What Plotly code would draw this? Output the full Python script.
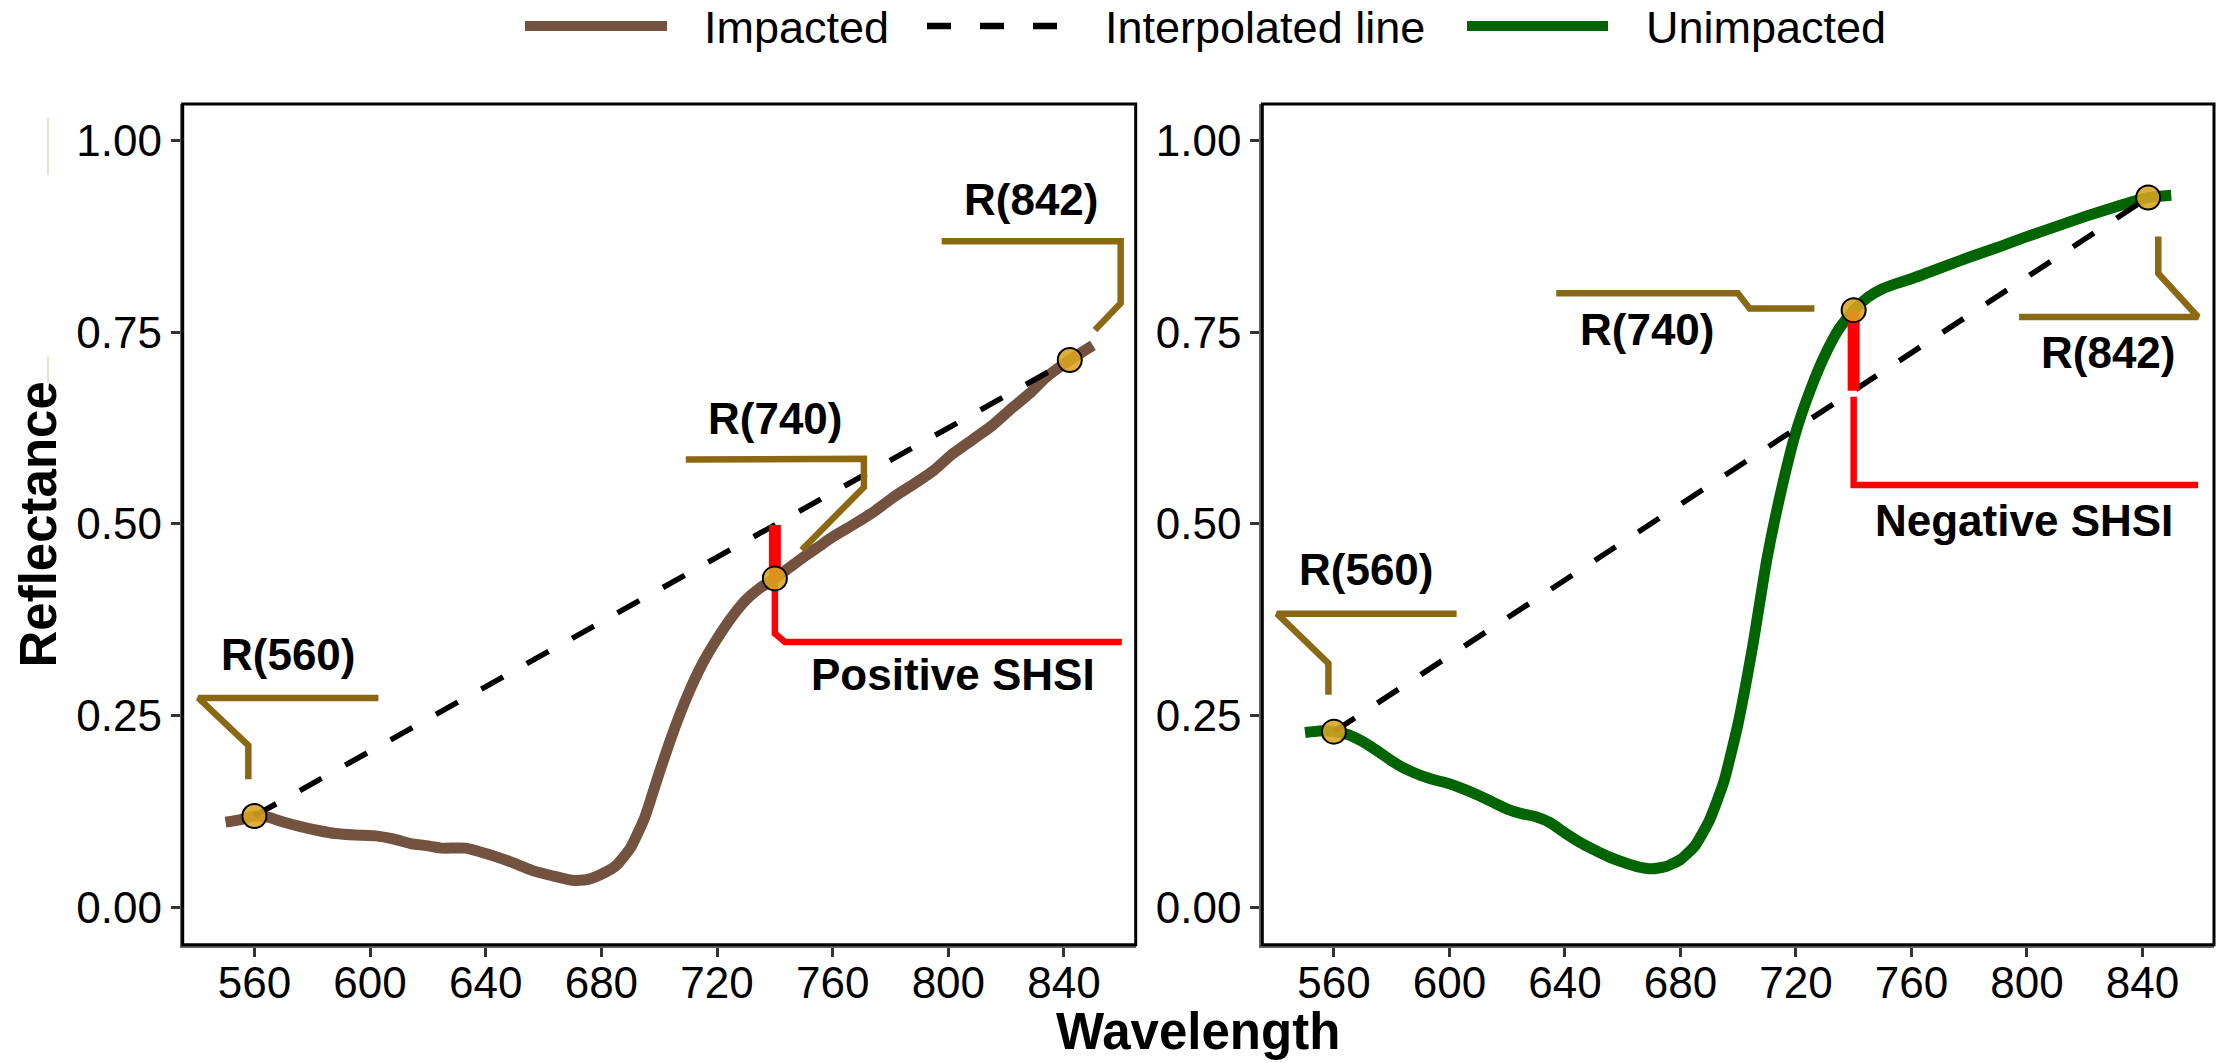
import numpy as np
import plotly.graph_objects as go

# ---------------- data ----------------
wavelength_impacted = [550, 555, 560, 565, 570, 576, 582, 588, 595, 602, 608, 614, 620, 625,
                       633, 640, 645, 650, 656, 663, 670, 675, 680, 685, 690, 695, 700, 705,
                       710, 715, 720, 725, 730, 735, 740, 745, 750, 755, 760, 768, 775, 781,
                       788, 795, 801, 808, 815, 821, 828, 834, 842, 850]
reflectance_impacted = [0.111, 0.114, 0.119, 0.117, 0.111, 0.105, 0.100, 0.096, 0.094, 0.093,
                        0.089, 0.083, 0.080, 0.077, 0.077, 0.070, 0.064, 0.057, 0.048, 0.041,
                        0.035, 0.036, 0.043, 0.054, 0.077, 0.117, 0.175, 0.230, 0.278, 0.318,
                        0.350, 0.378, 0.401, 0.417, 0.429, 0.443, 0.457, 0.470, 0.483, 0.501,
                        0.518, 0.535, 0.552, 0.570, 0.590, 0.609, 0.628, 0.648, 0.670, 0.692,
                        0.714, 0.733]

wavelength_unimpacted = [550, 555, 560, 565, 570, 575, 580, 585, 590, 595, 600, 605, 610, 615,
                         620, 625, 630, 635, 640, 645, 650, 655, 660, 665, 670, 675, 680, 685,
                         690, 695, 700, 705, 710, 715, 720, 725, 730, 735, 740, 745, 750, 755,
                         760, 770, 780, 790, 800, 810, 820, 830, 842, 850]
reflectance_unimpacted = [0.228, 0.230, 0.229, 0.225, 0.216, 0.204, 0.191, 0.180, 0.172, 0.166,
                          0.161, 0.154, 0.146, 0.137, 0.128, 0.122, 0.118, 0.110, 0.097, 0.085,
                          0.075, 0.066, 0.059, 0.053, 0.050, 0.053, 0.062, 0.080, 0.113, 0.163,
                          0.240, 0.340, 0.455, 0.545, 0.620, 0.675, 0.720, 0.755, 0.779, 0.796,
                          0.807, 0.814, 0.820, 0.834, 0.848, 0.861, 0.875, 0.888, 0.901, 0.913,
                          0.926, 0.929]

band_wavelengths = [560, 740, 842]
band_labels = ["R(560)", "R(740)", "R(842)"]
x_ticks = [560, 600, 640, 680, 720, 760, 800, 840]
y_ticks = [0.00, 0.25, 0.50, 0.75, 1.00]
legend_labels = ["Impacted", "Interpolated line", "Unimpacted"]
shsi_labels = ["Positive SHSI", "Negative SHSI"]

# ---------------- styles ----------------
FONT = "Liberation Sans, Arial, sans-serif"
BROWN = "#735240"
GREEN = "#006400"
GOLD = "#8B6914"
RED = "#FF0000"
MARKER = "rgba(218,165,32,0.88)"
W, H = 2222, 1063

fig = go.Figure()

panels = [
    dict(xa="x", ya="y", wl=wavelength_impacted, rf=reflectance_impacted, color=BROWN),
    dict(xa="x2", ya="y2", wl=wavelength_unimpacted, rf=reflectance_unimpacted, color=GREEN),
]

# callout geometry (offsets relative to each band point), per panel
callouts = [
    {  # impacted panel
        560: dict(path=[(-2.1, 0.048), (-2.1, 0.092), (-19.4, 0.154), (42.9, 0.154)], text=(11.8, 0.211)),
        740: dict(path=[(9.3, 0.037), (30.8, 0.119), (30.8, 0.156), (-30.8, 0.155)], text=(0.3, 0.208)),
        842: dict(path=[(8.7, 0.039), (17.6, 0.074), (17.6, 0.155), (-44.3, 0.155)], text=(-13.2, 0.210)),
    },
    {  # unimpacted panel
        560: dict(path=[(-1.9, 0.048), (-1.9, 0.089), (-19.7, 0.154), (42.5, 0.154)], text=(11.4, 0.211)),
        740: dict(path=[(-13.6, 0.002), (-36.0, 0.002), (-40.1, 0.022), (-103.0, 0.022)], text=(-71.5, -0.025)),
        842: dict(path=[(3.5, -0.051), (3.5, -0.099), (17.3, -0.156), (-44.7, -0.156)], text=(-13.7, -0.202)),
    },
]
shsi_geom = [
    dict(path=[(0, 0.0), (0, -0.072), (3.5, -0.083), (120, -0.083)], text=(61.7, -0.126)),
    dict(path=[(0, -0.113), (0, -0.228), (119.3, -0.228)], text=(58.9, -0.274)),
]

annotations = []
for i, p in enumerate(panels):
    wl = np.array(p["wl"], dtype=float)
    rf = np.array(p["rf"], dtype=float)
    band_vals = np.interp(band_wavelengths, wl, rf)
    r560, r740, r842 = band_vals
    interp740 = r560 + (740 - 560) * (r842 - r560) / (842 - 560)

    # spectrum
    fig.add_trace(go.Scatter(x=wl, y=rf, mode="lines", xaxis=p["xa"], yaxis=p["ya"],
                             line=dict(color=p["color"], width=11, shape="spline", smoothing=0.5),
                             showlegend=False, hoverinfo="skip"))
    # interpolated line
    fig.add_trace(go.Scatter(x=[560, 842], y=[r560, r842], mode="lines", xaxis=p["xa"], yaxis=p["ya"],
                             line=dict(color="black", width=5.5, dash="25px,27px"),
                             showlegend=False, hoverinfo="skip"))
    # callouts
    for bw, bv, lab in zip(band_wavelengths, band_vals, band_labels):
        c = callouts[i][bw]
        xs = [bw + dx for dx, dy in c["path"]]
        ys = [bv + dy for dx, dy in c["path"]]
        fig.add_trace(go.Scatter(x=xs, y=ys, mode="lines", xaxis=p["xa"], yaxis=p["ya"],
                                 line=dict(color=GOLD, width=6.5), showlegend=False, hoverinfo="skip"))
        annotations.append(dict(x=bw + c["text"][0], y=bv + c["text"][1], xref=p["xa"], yref=p["ya"],
                                text="<b>%s</b>" % lab, showarrow=False, xanchor="center", yanchor="middle",
                                font=dict(family=FONT, size=44, color="black")))
    # SHSI thick segment
    fig.add_trace(go.Scatter(x=[740, 740], y=[r740, interp740], mode="lines", xaxis=p["xa"], yaxis=p["ya"],
                             line=dict(color=RED, width=12), showlegend=False, hoverinfo="skip"))
    g = shsi_geom[i]
    fig.add_trace(go.Scatter(x=[740 + dx for dx, dy in g["path"]], y=[r740 + dy for dx, dy in g["path"]],
                             mode="lines", xaxis=p["xa"], yaxis=p["ya"],
                             line=dict(color=RED, width=6.5), showlegend=False, hoverinfo="skip"))
    annotations.append(dict(x=740 + g["text"][0], y=r740 + g["text"][1], xref=p["xa"], yref=p["ya"],
                            text="<b>%s</b>" % shsi_labels[i], showarrow=False, xanchor="center",
                            yanchor="middle", font=dict(family=FONT, size=44, color="black")))
    # band markers
    fig.add_trace(go.Scatter(x=band_wavelengths, y=band_vals, mode="markers", xaxis=p["xa"], yaxis=p["ya"],
                             marker=dict(size=24, color=MARKER, line=dict(color="black", width=2)),
                             showlegend=False, hoverinfo="skip"))

# ---------------- axes ----------------
xdoms = [[182.7 / W, 1135.7 / W], [1262.3 / W, 2214 / W]]
ydom = [1 - 944.7 / H, 1 - 104 / H]
axis_common = dict(showgrid=False, zeroline=False, showline=True, linecolor="#666666", linewidth=3,
                   ticks="outside", ticklen=9, tickwidth=2.5, tickcolor="#333333",
                   tickfont=dict(family=FONT, size=44, color="black"))
fig.update_layout(
    xaxis=dict(domain=xdoms[0], range=[535.2, 864.8], anchor="y", tickvals=x_ticks,
               ticklabelstandoff=-12, **axis_common),
    yaxis=dict(domain=ydom, range=[-0.049, 1.048], anchor="x", tickvals=y_ticks, tickformat=".2f",
               **axis_common),
    xaxis2=dict(domain=xdoms[1], range=[535.2, 864.8], anchor="y2", tickvals=x_ticks,
                ticklabelstandoff=-12, **axis_common),
    yaxis2=dict(domain=ydom, range=[-0.049, 1.048], anchor="x2", tickvals=y_ticks, tickformat=".2f",
                **axis_common),
)

shapes = []
for xr, yr in [("x domain", "y domain"), ("x2 domain", "y2 domain")]:
    shapes.append(dict(type="rect", xref=xr, yref=yr, x0=0, x1=1, y0=0, y1=1,
                       line=dict(color="black", width=3), layer="above"))

# faint marks at the far left of the reference
for y0, y1 in [(117, 175), (356, 383)]:
    shapes.append(dict(type="line", xref="paper", yref="paper", x0=48 / W, x1=48 / W,
                       y0=1 - y0 / H, y1=1 - y1 / H, line=dict(color="#e6d6bf", width=1.5)))

# ---------------- legend (drawn) ----------------
ly = 1 - 26 / H
legend_keys = [
    dict(x0=525, x1=667, color=BROWN, width=10, dash="solid", tx=703),
    dict(x0=927, x1=1060, color="black", width=6.5, dash="24px,29px", tx=1104),
    dict(x0=1467, x1=1608, color=GREEN, width=10, dash="solid", tx=1645),
]
for key, lab in zip(legend_keys, legend_labels):
    shapes.append(dict(type="line", xref="paper", yref="paper", x0=key["x0"] / W, x1=key["x1"] / W,
                       y0=ly, y1=ly, line=dict(color=key["color"], width=key["width"], dash=key["dash"])))
    annotations.append(dict(x=key["tx"] / W, y=1 - 27 / H, xref="paper", yref="paper", text=lab,
                            showarrow=False, xanchor="left", yanchor="middle", borderpad=0,
                            font=dict(family=FONT, size=45, color="black")))

# axis titles
annotations.append(dict(x=38 / W, y=1 - 524.5 / H, xref="paper", yref="paper", text="<b>Reflectance</b>",
                        textangle=-90, showarrow=False, xanchor="center", yanchor="middle",
                        font=dict(family=FONT, size=51, color="black")))
annotations.append(dict(x=1198 / W, y=1 - 1031 / H, xref="paper", yref="paper", text="<b>Wavelength</b>",
                        showarrow=False, xanchor="center", yanchor="middle",
                        font=dict(family=FONT, size=51, color="black")))

fig.update_layout(width=W, height=H, margin=dict(l=0, r=0, t=0, b=0),
                  paper_bgcolor="white", plot_bgcolor="white", showlegend=False,
                  shapes=shapes, annotations=annotations)

fig.write_html("out.html", include_plotlyjs=True, config={"displayModeBar": False})
